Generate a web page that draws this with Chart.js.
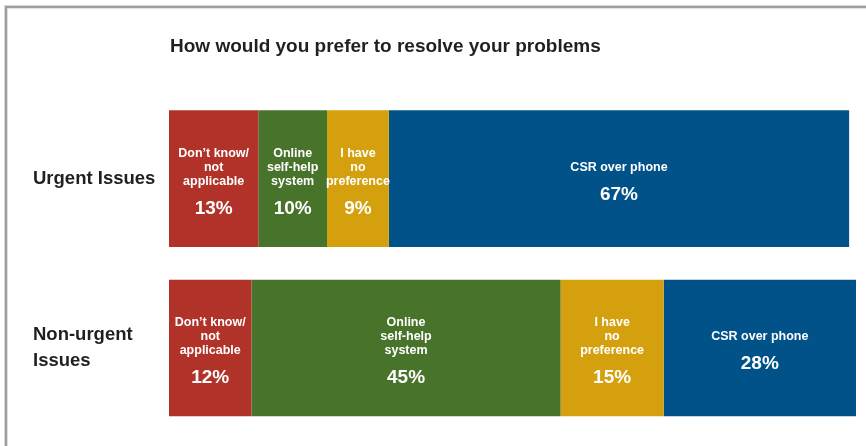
<!DOCTYPE html>
<html>
<head>
<meta charset="utf-8">
<script src="https://cdn.jsdelivr.net/npm/chart.js@4/dist/chart.umd.min.js"></script>
<style>
  html, body { margin: 0; padding: 0; background: #fff; overflow: hidden; }
  #wrap { position: relative; width: 866px; height: 446px; }
</style>
</head>
<body>
<div id="wrap"><canvas id="c" width="866" height="446"></canvas></div>
<script>
// Survey: preferred way of resolving problems, by issue urgency (percent of respondents)
const chartTitle = 'How would you prefer to resolve your problems';
const categories = ['Urgent Issues', ['Non-urgent', 'Issues']];
const seriesNames = [
  ['Don\u2019t know/', 'not', 'applicable'],
  ['Online', 'self-help', 'system'],
  ['I have', 'no', 'preference'],
  ['CSR over phone']
];
const dontKnow     = [13, 12];
const selfHelp     = [10, 45];
const noPreference = [9, 15];
const csrPhone     = [67, 28];
const seriesColors = ['#b03228', '#48732b', '#d4a00e', '#015289'];

const FONT = '"Liberation Sans", Arial, Helvetica, sans-serif';
const INK = '#231f20';

// Gray frame and the heading above the bars
const framePlugin = {
  id: 'frame',
  beforeDraw(chart) {
    const ctx = chart.ctx;
    ctx.save();
    ctx.fillStyle = '#d6d6d6';
    ctx.fillRect(4, 5, 1, chart.height);
    ctx.fillRect(4, 5, chart.width, 1);
    ctx.fillStyle = '#9e9e9e';
    ctx.fillRect(5, 6, 2, chart.height);
    ctx.fillRect(5, 6, chart.width, 2);
    ctx.fillStyle = '#e2e2e2';
    ctx.fillRect(7, 8, 1, chart.height);
    ctx.fillRect(7, 8, chart.width, 1);
    ctx.fillStyle = INK;
    ctx.font = 'bold 19px ' + FONT;
    ctx.textAlign = 'left';
    ctx.textBaseline = 'alphabetic';
    ctx.fillText(chartTitle, chart.chartArea.left + 1, 51.5);
    ctx.restore();
  }
};

// Series name and percentage written inside every segment
const segmentLabels = {
  id: 'segmentLabels',
  afterDatasetsDraw(chart) {
    const ctx = chart.ctx;
    ctx.save();
    ctx.fillStyle = '#ffffff';
    ctx.textAlign = 'center';
    ctx.textBaseline = 'middle';
    chart.data.datasets.forEach((ds, i) => {
      const meta = chart.getDatasetMeta(i);
      const lines = seriesNames[i];
      meta.data.forEach((bar, j) => {
        const p = bar.getProps(['x', 'y', 'base'], true);
        const cx = (p.x + p.base) / 2;
        const span = (lines.length - 1) * 14 + 27.5;
        const top = p.y + 2.5 - span / 2;
        ctx.font = 'bold 12.5px ' + FONT;
        lines.forEach((ln, k) => ctx.fillText(ln, cx, top + k * 14));
        ctx.font = 'bold 19px ' + FONT;
        ctx.fillText(ds.data[j] + '%', cx, top + span);
      });
    });
    ctx.restore();
  }
};

const values = [dontKnow, selfHelp, noPreference, csrPhone];

new Chart(document.getElementById('c'), {
  type: 'bar',
  data: {
    labels: categories,
    datasets: values.map((v, i) => ({
      label: seriesNames[i].join(' '),
      data: v,
      backgroundColor: seriesColors[i],
      borderWidth: 0,
      categoryPercentage: 1,
      barPercentage: 0.807
    }))
  },
  options: {
    indexAxis: 'y',
    responsive: false,
    animation: false,
    devicePixelRatio: 1,
    layout: { padding: { left: 33, right: 10, top: 94, bottom: 10 } },
    plugins: {
      legend: { display: false },
      tooltip: { enabled: false },
      title: { display: false }
    },
    scales: {
      x: { stacked: true, min: 0, max: 100, display: false },
      y: {
        stacked: true,
        grid: { display: false, drawTicks: false },
        border: { display: false },
        ticks: {
          crossAlign: 'far',
          padding: 0,
          color: INK,
          font: { family: FONT, size: 18.5, weight: 'bold', lineHeight: 1.45 }
        },
        afterFit(scale) { scale.width = 136; }
      }
    }
  },
  plugins: [framePlugin, segmentLabels]
});
</script>
</body>
</html>
